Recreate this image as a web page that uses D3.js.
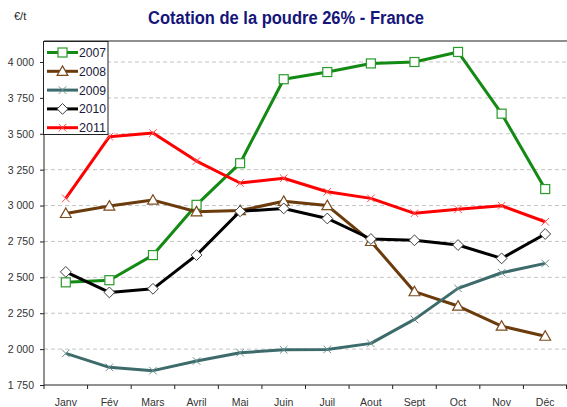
<!DOCTYPE html>
<html><head><meta charset="utf-8">
<script src="https://cdn.jsdelivr.net/npm/d3@7"></script>
<style>
body{margin:0;background:#fff;}
svg{display:block;font-family:"Liberation Sans Narrow","Liberation Sans",Arial,sans-serif;}
</style></head>
<body><svg id="c" width="567" height="407"></svg>
<script>
const months = ["Janv","Fév","Mars","Avril","Mai","Juin","Juil","Aout","Sept","Oct","Nov","Déc"];
const yTicks = [1750,2000,2250,2500,2750,3000,3250,3500,3750,4000];
const s2007 = [2465,2480,2655,3005,3295,3880,3930,3990,4000,4070,3640,3115];
const s2008 = [2945,2997,3038,2957,2965,3030,3000,2750,2400,2300,2160,2090];
const s2009 = [1970,1873,1850,1917,1975,1995,1998,2040,2207,2423,2532,2597];
const s2010 = [2538,2395,2420,2655,2960,2980,2910,2767,2758,2725,2632,2802];
const s2011 = [3050,3480,3505,3310,3157,3190,3096,3050,2946,2974,2999,2887];
const seriesNames = ["2007","2008","2009","2010","2011"];

const series = [
  {name:seriesNames[0], values:s2007, color:"#138a13", mstroke:"#2a9a2a", marker:"square"},
  {name:seriesNames[1], values:s2008, color:"#6b3b0c", mstroke:"#7a4a1c", marker:"triangle"},
  {name:seriesNames[2], values:s2009, color:"#3d6b6b", mstroke:"#6a9090", marker:"x"},
  {name:seriesNames[3], values:s2010, color:"#000000", mstroke:"#404040", marker:"diamond"},
  {name:seriesNames[4], values:s2011, color:"#ff0000", mstroke:"#ff5050", marker:"x"}
];

const svg = d3.select("#c");
const L = 44, R = 567, T = 41, B = 385;
const x = d3.scaleBand().domain(months).range([L, R]).padding(0);
const y = d3.scaleLinear().domain([1750, 4000]).range([B, 62]);
const cx = m => x(m) + x.bandwidth()/2;

const loc = d3.formatLocale({decimal:",", thousands:"\u00a0", grouping:[3], currency:["","€"]});
const fmt = loc.format(",");
const ff = "\"Liberation Sans Narrow\",\"Liberation Sans\",Arial,sans-serif";

// title
svg.append("text").attr("x", 286).attr("y", 24).attr("text-anchor","middle")
  .attr("font-size", 18).attr("font-weight","bold").attr("fill","#15157a")
  .attr("textLength", 276).attr("lengthAdjust", "spacingAndGlyphs")
  .text("Cotation de la poudre 26% - France");
svg.append("text").attr("x", 14).attr("y", 20).attr("font-size", 11).attr("fill","#222")
  .text("€/t");

// gridlines
svg.append("g").selectAll("line").data(yTicks.filter(t => t > 1750)).join("line")
  .attr("x1", L).attr("x2", R).attr("y1", d => y(d)).attr("y2", d => y(d))
  .attr("stroke", "#c4c4c4").attr("stroke-width", 1).attr("stroke-dasharray", "4,3");

// top frame line
svg.append("line").attr("x1", L).attr("x2", R).attr("y1", T).attr("y2", T)
  .attr("stroke", "#222").attr("stroke-width", 1.2);

// y axis
const gy = svg.append("g").attr("transform", `translate(${L},0)`)
  .call(d3.axisLeft(y).tickValues(yTicks).tickFormat(fmt).tickSize(4).tickPadding(6));
gy.select(".domain").remove();
gy.append("line").attr("x1",0).attr("x2",0).attr("y1",T).attr("y2",B).attr("stroke","#222");
gy.selectAll("text").attr("font-size", 10.5).attr("fill", "#333").attr("font-family", ff);
gy.selectAll(".tick line").attr("stroke","#222");

// x axis
const gx = svg.append("g").attr("transform", `translate(0,${B})`)
  .call(d3.axisBottom(x).tickSize(0).tickPadding(14));
gx.select(".domain").remove();
gx.append("line").attr("x1", L).attr("x2", R).attr("y1",0).attr("y2",0).attr("stroke","#222");
gx.selectAll("text").attr("font-size", 10.5).attr("fill", "#333").attr("font-family", ff);
gx.append("g").selectAll("line").data(months.concat(["end"])).join("line")
  .attr("x1", (d,i) => i < months.length ? x(d) : R - 0.5)
  .attr("x2", (d,i) => i < months.length ? x(d) : R - 0.5)
  .attr("y1", 0).attr("y2", 4).attr("stroke", "#222");

function drawMarker(g, type, px, py, stroke, sz) {
  if (type === "square") {
    g.append("rect").attr("x", px - sz/2).attr("y", py - sz/2).attr("width", sz).attr("height", sz)
      .attr("fill", "#fff").attr("stroke", stroke).attr("stroke-width", 1.2);
  } else if (type === "triangle") {
    const h = sz;
    g.append("path").attr("d", `M${px},${py - h*0.6}L${px + h*0.6},${py + h*0.45}L${px - h*0.6},${py + h*0.45}Z`)
      .attr("fill", "#fff").attr("stroke", stroke).attr("stroke-width", 1.2);
  } else if (type === "diamond") {
    const r = sz*0.6;
    g.append("path").attr("d", `M${px},${py - r}L${px + r},${py}L${px},${py + r}L${px - r},${py}Z`)
      .attr("fill", "#fff").attr("stroke", stroke).attr("stroke-width", 1);
  } else if (type === "x") {
    const r = sz*0.42;
    g.append("path").attr("d", `M${px - r},${py - r}L${px + r},${py + r}M${px - r},${py + r}L${px + r},${py - r}`)
      .attr("fill", "none").attr("stroke", stroke).attr("stroke-width", 1);
  }
}

const line = d3.line().x((d,i) => cx(months[i])).y(d => y(d));
series.forEach(s => {
  const g = svg.append("g");
  g.append("path").datum(s.values).attr("d", line).attr("fill","none")
    .attr("stroke", s.color).attr("stroke-width", 3).attr("stroke-linejoin","round");
  s.values.forEach((v,i) => drawMarker(g, s.marker, cx(months[i]), y(v), s.mstroke, 9));
});

// legend
const lg = svg.append("g");
lg.append("rect").attr("x", 43.5).attr("y", 41.5).attr("width", 64.5).attr("height", 93)
  .attr("fill", "#fff").attr("stroke", "#222").attr("stroke-width", 1);
series.forEach((s, i) => {
  const yy = 52.5 + i * 18.8;
  lg.append("line").attr("x1", 47).attr("x2", 78).attr("y1", yy).attr("y2", yy)
    .attr("stroke", s.color).attr("stroke-width", 3);
  drawMarker(lg, s.marker, 62.5, yy, s.mstroke, 9);
  lg.append("text").attr("x", 79).attr("y", yy + 4.5).attr("font-size", 12.5).attr("fill", "#1a1a3a")
    .attr("textLength", 27).attr("lengthAdjust", "spacingAndGlyphs")
    .text(s.name);
});
</script></body></html>
